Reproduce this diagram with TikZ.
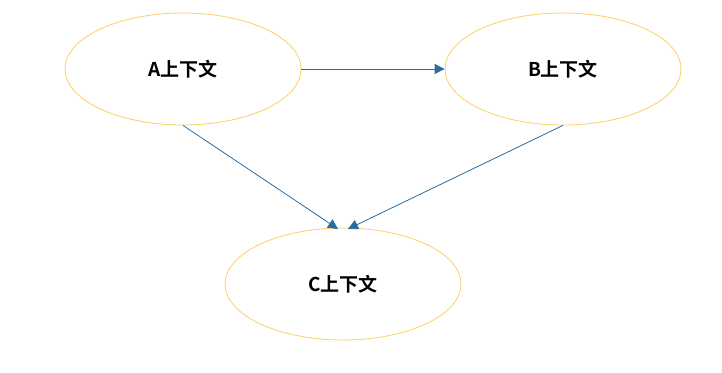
\documentclass[tikz,border=0pt]{standalone}
\usepackage{fontspec}
\newfontfamily\cjk{Noto Sans CJK SC Bold}
\usetikzlibrary{arrows.meta,shapes.geometric}
\definecolor{ell}{RGB}{250,208,100}
\definecolor{arr}{RGB}{40,108,160}
\tikzset{
  ctx/.style={ellipse, draw=ell, line width=0.8pt, minimum width=236pt, minimum height=112pt, inner sep=0pt, font=\cjk\fontsize{19}{22}\selectfont},
  conn/.style={draw=arr, line width=0.8pt, -{Triangle[length=10pt,width=10pt]}}
}
\begin{document}
\begin{tikzpicture}[x=1pt,y=-1pt]
\useasboundingbox (0,0) rectangle (722,372);
\node[ctx] (a) at (183,69) {A上下文};
\node[ctx] (b) at (563,69) {B上下文};
\node[ctx] (c) at (343,284) {C上下文};
\coordinate (ca) at (338,229);
\coordinate (cb) at (348,229);
\draw[conn] (a.east) -- (b.west);
\draw[conn] (a.south) -- (ca);
\draw[conn] (b.south) -- (cb);
\end{tikzpicture}
\end{document}
